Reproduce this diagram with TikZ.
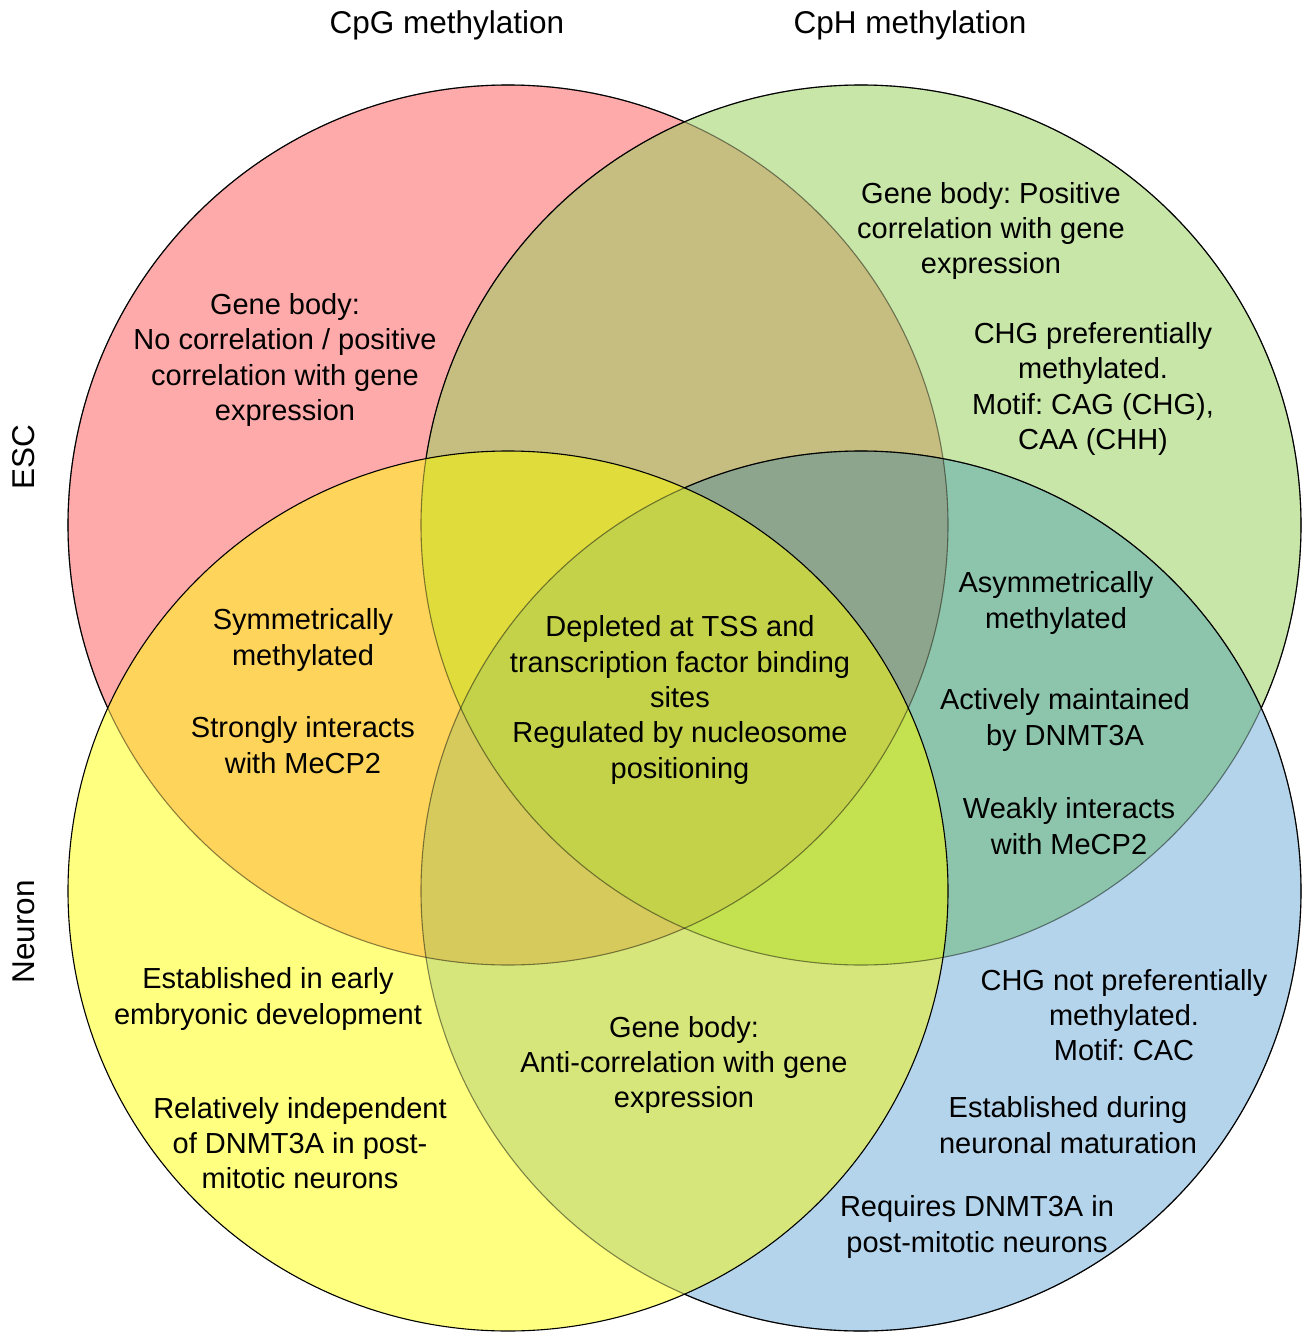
\documentclass[tikz,border=0pt]{standalone}
\usepackage{fontspec}
\setmainfont{Liberation Sans}
\frenchspacing
\definecolor{cR}{RGB}{255,170,170}
\definecolor{cG}{RGB}{200,230,168}
\definecolor{cY}{RGB}{255,255,128}
\definecolor{cB}{RGB}{180,212,236}
\definecolor{cRG}{RGB}{198,190,128}
\definecolor{cRY}{RGB}{255,212,90}
\definecolor{cGB}{RGB}{140,196,172}
\definecolor{cYB}{RGB}{214,230,122}
\definecolor{cRGY}{RGB}{224,220,60}
\definecolor{cRGB}{RGB}{141,165,141}
\definecolor{cRYB}{RGB}{214,202,92}
\definecolor{cGYB}{RGB}{196,226,80}
\definecolor{cAll}{RGB}{196,210,74}
\begin{document}
\frenchspacing
\begin{tikzpicture}[x=1pt,y=-1pt,
  lbl/.style={align=center, inner sep=0pt, font=\frenchspacing\fontsize{29}{35.3}\selectfont},
  ttl/.style={inner sep=0pt, font=\fontsize{31.5}{36}\selectfont},
  ring/.style={line width=1.1pt, draw=black}]
\useasboundingbox (0,0) rectangle (1309,1332);
\fill[white] (0,0) rectangle (1309,1332);
\def\pR{(508,525) circle (440pt)}
\def\pG{(861,525) circle (440pt)}
\def\pY{(508,891) circle (440pt)}
\def\pB{(861,891) circle (440pt)}
\def\outside#1{\clip (-10,-10) rectangle (1320,1345) #1;}
% single
\fill[cR] \pR; \fill[cG] \pG; \fill[cB] \pB; \fill[cY] \pY;
% pairs
\begin{scope}\clip \pR; \fill[cRG] \pG; \end{scope}
\begin{scope}\clip \pR; \fill[cRY] \pY; \end{scope}
\begin{scope}\clip \pG; \fill[cGB] \pB; \end{scope}
\begin{scope}\clip \pY; \fill[cYB] \pB; \end{scope}
\begin{scope}\clip \pR; \fill[cRYB] \pB; \end{scope}
\begin{scope}\clip \pG; \fill[cGYB] \pY; \end{scope}
% triples
\begin{scope}\clip \pR; \clip \pG; \fill[cRGY] \pY; \end{scope}
\begin{scope}\clip \pR; \clip \pG; \fill[cRGB] \pB; \end{scope}
\begin{scope}\clip \pR; \clip \pY; \fill[cRYB] \pB; \end{scope}
\begin{scope}\clip \pG; \clip \pY; \fill[cGYB] \pB; \end{scope}
% all four
\begin{scope}\clip \pR; \clip \pG; \clip \pY; \fill[cAll] \pB; \end{scope}
% outlines: faded everywhere, black where not covered by later circles
\draw[ring, draw opacity=0.45] \pR;
\draw[ring, draw opacity=0.45] \pG;
\draw[ring, draw opacity=0.45] \pB;
\begin{scope}[even odd rule]\outside{\pG}\outside{\pB}\outside{\pY}\draw[ring] \pR;\end{scope}
\begin{scope}[even odd rule]\outside{\pB}\outside{\pY}\draw[ring] \pG;\end{scope}
\begin{scope}[even odd rule]\outside{\pY}\draw[ring] \pB;\end{scope}
\draw[ring] \pY;
% titles
\node[ttl] (h1) at (447,25) {CpG methylation};
\node[ttl] (h2) at (910,25) {CpH methylation};
\node[ttl, rotate=90] (s1) at (24,457) {ESC};
\node[ttl, rotate=90] (s2) at (24,932) {Neuron};
% texts
\node[lbl] (t1) at (285,360) {Gene body:\\No correlation / positive\\correlation with gene\\expression};
\node[lbl] (t2) at (991,231) {Gene body: Positive\\correlation with gene\\expression};
\node[lbl] (t3) at (1093,389) {CHG preferentially\\methylated.\\Motif: CAG (CHG),\\CAA (CHH)};
\node[lbl] (t4) at (303,640) {Symmetrically\\methylated};
\node[lbl] (t5) at (303,745) {Strongly interacts\\with MeCP2};
\node[lbl] (t6) at (680,700) {Depleted at TSS and\\transcription factor binding\\sites\\Regulated by nucleosome\\positioning};
\node[lbl] (t7) at (1056,603) {Asymmetrically\\methylated};
\node[lbl] (t8) at (1065,720) {Actively maintained\\by DNMT3A};
\node[lbl] (t9) at (1069,826) {Weakly interacts\\with MeCP2};
\node[lbl] (t10) at (268,999) {Established in early\\embryonic development};
\node[lbl] (t11) at (300,1143) {Relatively independent\\of DNMT3A in post-\\mitotic neurons};
\node[lbl] (t12) at (684,1065) {Gene body:\\Anti-correlation with gene\\expression};
\node[lbl] (t13) at (1124,1015) {CHG not preferentially\\methylated.\\Motif: CAC};
\node[lbl] (t14) at (1068,1125) {Established during\\neuronal maturation};
\node[lbl] (t15) at (977,1227) {Requires DNMT3A in\\post-mitotic neurons};
\end{tikzpicture}
\end{document}
